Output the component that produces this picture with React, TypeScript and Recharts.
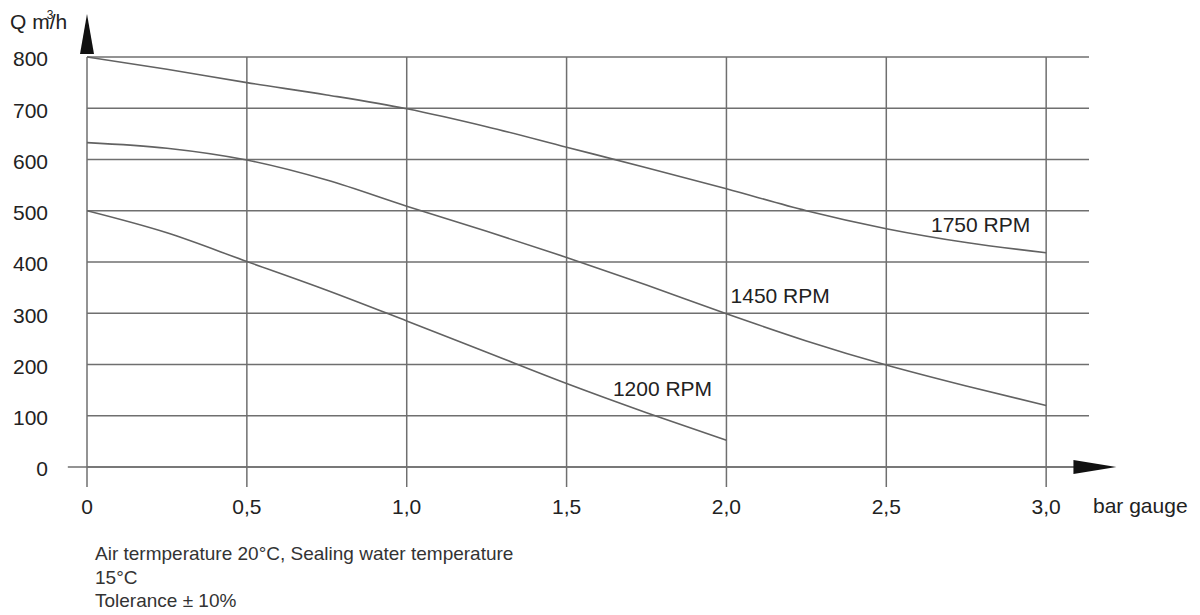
import {
  CartesianGrid,
  Line,
  LineChart,
  ReferenceLine,
  XAxis,
  YAxis,
} from "recharts";

// Flow Q (m³/h) against pressure (bar gauge), one curve per shaft speed
const rpm1750 = [
  { p: 0, q: 800 },
  { p: 0.25, q: 776 },
  { p: 0.5, q: 750 },
  { p: 0.75, q: 726 },
  { p: 1.0, q: 699 },
  { p: 1.25, q: 664 },
  { p: 1.5, q: 624 },
  { p: 1.75, q: 584 },
  { p: 2.0, q: 543 },
  { p: 2.25, q: 500 },
  { p: 2.5, q: 465 },
  { p: 2.75, q: 438 },
  { p: 3.0, q: 418 },
];

const rpm1450 = [
  { p: 0, q: 633 },
  { p: 0.25, q: 622 },
  { p: 0.5, q: 599 },
  { p: 0.75, q: 560 },
  { p: 1.0, q: 509 },
  { p: 1.25, q: 460 },
  { p: 1.5, q: 409 },
  { p: 1.75, q: 355 },
  { p: 2.0, q: 299 },
  { p: 2.25, q: 246 },
  { p: 2.5, q: 199 },
  { p: 2.75, q: 158 },
  { p: 3.0, q: 120 },
];

const rpm1200 = [
  { p: 0, q: 500 },
  { p: 0.25, q: 457 },
  { p: 0.5, q: 401 },
  { p: 0.75, q: 345 },
  { p: 1.0, q: 285 },
  { p: 1.25, q: 224 },
  { p: 1.5, q: 163 },
  { p: 1.75, q: 106 },
  { p: 2.0, q: 52 },
];

const xTicks = [0, 0.5, 1.0, 1.5, 2.0, 2.5, 3.0];
const yTicks = [0, 100, 200, 300, 400, 500, 600, 700, 800];
const xMax = 3.134;

const curves = [
  { name: "1750 RPM", data: rpm1750, at: { p: 2.795, q: 473 } },
  { name: "1450 RPM", data: rpm1450, at: { p: 2.168, q: 334 } },
  { name: "1200 RPM", data: rpm1200, at: { p: 1.8, q: 154 } },
];

const notes = [
  "Air termperature 20°C, Sealing water temperature",
  "15°C",
  "Tolerance ± 10%",
];

const FONT = "'Liberation Sans', Arial, Helvetica, sans-serif";
const GRID = "#6f6f6f";
const CURVE = "#626262";
const INK = "#222";
const AXIS_FONT = 21;

const fmtX = (v: number) => (v === 0 ? "0" : v.toFixed(1).replace(".", ","));

// horizontal axis with an arrow head on the right
const XArrow = (props: any) => {
  const { x1, y1, x2 } = props;
  return (
    <g>
      <line x1={x1} y1={y1} x2={x2} y2={y1} stroke={GRID} strokeWidth={1.5} />
      <polygon points={`${x2 - 6},${y1 - 7} ${x2 + 37},${y1} ${x2 - 6},${y1 + 7}`} fill="#111" />
    </g>
  );
};

// vertical axis arrow head above the 800 line
const YArrow = (props: any) => {
  const { x1, y1 } = props;
  return (
    <polygon points={`${x1 - 7},${y1 - 3} ${x1},${y1 - 43} ${x1 + 7},${y1 - 3}`} fill="#111" />
  );
};

const CurveLabel = ({ viewBox, value }: any) => (
  <text
    x={viewBox.x}
    y={viewBox.y}
    textAnchor="middle"
    dominantBaseline="central"
    fontSize={AXIS_FONT}
    fill={INK}
    fontFamily={FONT}
  >
    {value}
  </text>
);

export default function App() {
  return (
    <div
      style={{
        position: "absolute",
        left: 0,
        top: 0,
        width: 1200,
        height: 615,
        background: "#fff",
        fontFamily: FONT,
      }}
    >
      <LineChart
        width={1200}
        height={540}
        margin={{ top: 57, right: 111, bottom: 13, left: 0 }}
      >
        <CartesianGrid stroke={GRID} strokeWidth={1.5} vertical={false} />
        <XAxis
          type="number"
          dataKey="p"
          domain={[0, xMax]}
          ticks={xTicks}
          allowDataOverflow
          height={60}
          axisLine={false}
          tickSize={20}
          tickLine={{ stroke: GRID, strokeWidth: 1.5 }}
          tickMargin={12}
          tickFormatter={fmtX}
          tick={{ fill: INK, fontSize: AXIS_FONT, fontFamily: FONT }}
        />
        <YAxis
          type="number"
          domain={[0, 800]}
          ticks={yTicks}
          width={87}
          axisLine={false}
          tickLine={false}
          tickSize={0}
          tickMargin={39}
          tick={{ fill: INK, fontSize: AXIS_FONT, fontFamily: FONT, dy: 2 }}
        />
        {xTicks.map((t) => (
          <ReferenceLine
            key={t}
            segment={[
              { x: t, y: 0 },
              { x: t, y: 800 },
            ]}
            stroke={GRID}
            strokeWidth={1.5}
            ifOverflow="visible"
          />
        ))}
        <ReferenceLine
          segment={[
            { x: -0.06, y: 0 },
            { x: 3.104, y: 0 },
          ]}
          ifOverflow="visible"
          shape={XArrow}
        />
        <ReferenceLine
          segment={[
            { x: 0, y: 800 },
            { x: 0, y: 800 },
          ]}
          ifOverflow="visible"
          shape={YArrow}
        />
        {curves.map((c) => (
          <Line
            key={c.name}
            data={c.data}
            dataKey="q"
            type="monotone"
            stroke={CURVE}
            strokeWidth={1.6}
            dot={false}
            activeDot={false}
            isAnimationActive={false}
          />
        ))}
        {curves.map((c) => (
          <ReferenceLine
            key={`${c.name}-label`}
            segment={[
              { x: c.at.p, y: c.at.q },
              { x: c.at.p, y: c.at.q },
            ]}
            stroke="none"
            ifOverflow="visible"
            label={<CurveLabel value={c.name} />}
          />
        ))}
      </LineChart>
      <div
        style={{
          position: "absolute",
          left: 10,
          top: 10,
          fontSize: AXIS_FONT,
          lineHeight: "24px",
          color: INK,
          whiteSpace: "nowrap",
        }}
      >
        Q m
        <span style={{ display: "inline-block", width: 0, position: "relative", top: -10, left: -3, fontSize: 12 }}>
          3
        </span>
        /h
      </div>
      <div
        style={{
          position: "absolute",
          left: 1093,
          top: 494,
          fontSize: AXIS_FONT,
          color: INK,
        }}
      >
        bar gauge
      </div>
      <div
        style={{
          position: "absolute",
          left: 95,
          top: 542,
          fontSize: 19,
          lineHeight: "23.5px",
          color: "#333",
        }}
      >
        {notes.map((n) => (
          <div key={n}>{n}</div>
        ))}
      </div>
    </div>
  );
}
